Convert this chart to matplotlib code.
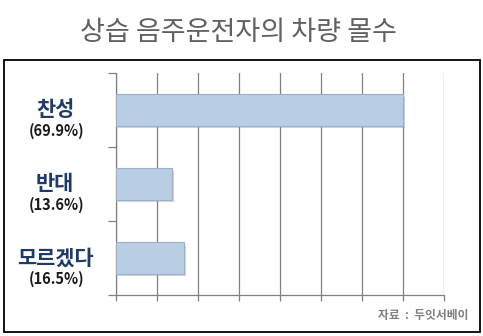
import matplotlib
matplotlib.use("Agg")
import matplotlib.pyplot as plt
from matplotlib.patches import Rectangle
import matplotlib.patheffects as pe

plt.rcParams['font.family'] = ['Noto Sans CJK KR', 'DejaVu Sans']

title = "상습 음주운전자의 차량 몰수"
categories = ["찬성", "반대", "모르겠다"]
values = [69.9, 13.6, 16.5]
pct_labels = ["(69.9%)", "(13.6%)", "(16.5%)"]
source = "자료  :  두잇서베이"
x_ticks = [0, 10, 20, 30, 40, 50, 60, 70, 80]

W, H = 483, 336
fig = plt.figure(figsize=(W / 100, H / 100), dpi=100)
fig.patch.set_facecolor('white')

ax = fig.add_axes([116 / W, 1 - 295 / H, (444 - 116) / W, (295 - 73) / H])
ypos = [i + 0.5 for i in range(len(categories))]
bars = ax.barh(ypos, values, height=0.42, color='#B9CDE5', edgecolor='#9AB0CE',
               linewidth=0.8, zorder=3)
for b in bars:
    b.set_path_effects([pe.SimplePatchShadow(offset=(1.5, -1.5), alpha=0.35, shadow_rgbFace='#888888'),
                        pe.Normal()])

ax.set_xlim(0, 80)
ax.set_ylim(len(categories), 0)
ax.set_xticks(x_ticks)
ax.set_xticklabels([])
ax.set_yticks(range(len(categories) + 1))
ax.set_yticklabels([])
ax.grid(axis='x', color='#808080', linewidth=0.9, zorder=0)
for s in ['top', 'right']:
    ax.spines[s].set_visible(False)
for s in ['left', 'bottom']:
    ax.spines[s].set_color('#808080')
    ax.spines[s].set_linewidth(0.9)
ax.tick_params(axis='x', length=4, color='#808080', width=0.9, direction='out')
ax.tick_params(axis='y', length=6, color='#808080', width=0.9, direction='out')

for i, (c, p) in enumerate(zip(categories, pct_labels)):
    ax.annotate(c, xy=(0, ypos[i]), xycoords=('axes fraction', 'data'),
                xytext=(-61 * 0.72, 0), textcoords='offset points',
                ha='center', va='center', fontsize=15, fontweight='bold', color='#1F3A68')
    ax.annotate(p, xy=(0, ypos[i]), xycoords=('axes fraction', 'data'),
                xytext=(-59 * 0.72, -21 * 0.72), textcoords='offset points',
                ha='center', va='center', fontsize=10.5, fontweight='bold', color='#1A1A1A')

fig.text(238 / W, 1 - 33 / H, title, ha='center', va='center', fontsize=19.5, color='#606060')
fig.text(468 / W, 1 - 316 / H, source, ha='right', va='center', fontsize=8.5, fontweight='bold', color='#7F7F7F')

fig.patches.append(Rectangle((4 / W, 1 - 332 / H), 476 / W, (332 - 59.5) / H,
                             transform=fig.transFigure, fill=False, edgecolor='black', linewidth=1.3))

fig.savefig('out.png', dpi=100)
